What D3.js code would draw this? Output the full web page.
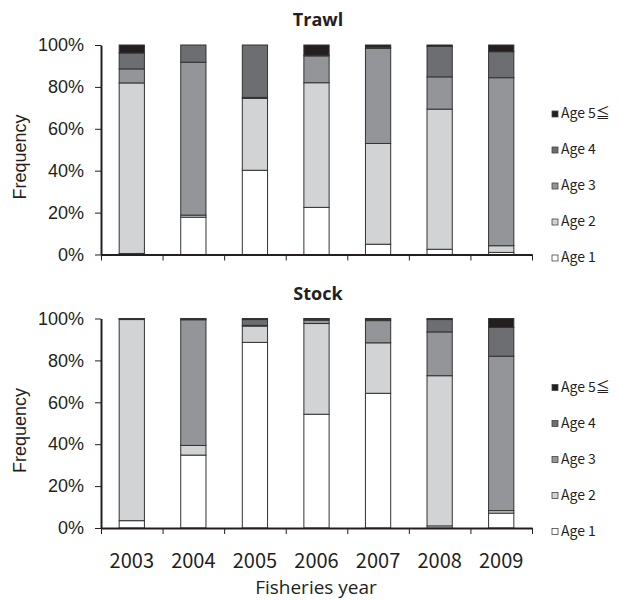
<!DOCTYPE html>
<html>
<head>
<meta charset="utf-8">
<script src="https://cdn.jsdelivr.net/npm/d3@7"></script>
<style>
  body { margin: 0; background: #fff; }
  svg { display: block; }
</style>
</head>
<body>
<svg id="chart" width="620" height="601"></svg>
<script>
var years = ["2003", "2004", "2005", "2006", "2007", "2008", "2009"];
var ages = ["Age 1", "Age 2", "Age 3", "Age 4", "Age 5≦"];
var yTicks = [0, 0.2, 0.4, 0.6, 0.8, 1];

// percentages per age class
var trawlAge1 = [0.5, 17.8, 40.2, 22.5, 4.9, 2.5, 1.0];
var trawlAge2 = [81.4, 1.0, 34.3, 59.5, 48.1, 66.9, 3.2];
var trawlAge3 = [6.7, 73.0, 0.5, 12.8, 45.4, 15.4, 80.2];
var trawlAge4 = [7.6, 8.2, 25.0, 0.3, 0.6, 14.5, 12.4];
var trawlAge5 = [3.8, 0, 0, 4.9, 1.0, 0.7, 3.2];

var stockAge1 = [3.5, 34.8, 88.6, 54.3, 64.3, 1.0, 7.1];
var stockAge2 = [96.0, 4.6, 7.8, 43.3, 24.1, 71.7, 1.2];
var stockAge3 = [0, 60.0, 0.3, 1.6, 10.6, 20.9, 73.7];
var stockAge4 = [0.3, 0.4, 2.8, 0.5, 0.6, 5.9, 13.7];
var stockAge5 = [0.2, 0.2, 0.5, 0.3, 0.4, 0.5, 4.3];

var colors = ["#ffffff", "#d1d3d4", "#939598", "#6d6e71", "#231f20"];

function buildRows(series) {
  return years.map(function(y, i) {
    var row = {year: y};
    ages.forEach(function(a, k) { row[a] = series[k][i]; });
    return row;
  });
}

var svg = d3.select("#chart");
var left = 101, right = 532;

var x = d3.scaleBand()
  .domain(years)
  .range([left, right])
  .paddingInner(0.59)
  .paddingOuter(0.295);

var xEdge = d3.scaleLinear().domain([0, years.length]).range([left, right]);

var color = d3.scaleOrdinal().domain(ages).range(colors);

function drawPanel(title, series, top, showYears) {
  var bottom = top + 209.5;
  var y = d3.scaleLinear().domain([0, 1]).range([bottom, top]);
  var g = svg.append("g");

  var stack = d3.stack().keys(ages).offset(d3.stackOffsetExpand);
  var layers = stack(buildRows(series));

  g.selectAll(".layer")
    .data(layers)
    .enter().append("g")
    .attr("fill", function(d) { return color(d.key); })
    .selectAll("rect")
    .data(function(d) { return d; })
    .enter().append("rect")
    .attr("x", function(d) { return x(d.data.year); })
    .attr("width", x.bandwidth())
    .attr("y", function(d) { return y(d[1]); })
    .attr("height", function(d) { return y(d[0]) - y(d[1]); })
    .attr("stroke", "#333")
    .attr("stroke-width", 1);

  // y axis
  var yAxis = g.append("g")
    .attr("transform", "translate(" + left + ",0)")
    .call(d3.axisLeft(y).tickValues(yTicks).tickFormat(d3.format(".0%")).tickSize(6).tickSizeOuter(0));
  yAxis.select(".domain").attr("stroke", "#231f20").attr("stroke-width", 2);
  yAxis.selectAll(".tick line").attr("stroke", "#231f20");
  yAxis.selectAll("text")
    .attr("x", -17)
    .style("font-family", "'Liberation Sans', Arial, sans-serif")
    .style("font-size", "18px")
    .attr("fill", "#231f20");

  // x axis with ticks at band edges
  var xAxis = g.append("g")
    .attr("transform", "translate(0," + bottom + ")")
    .call(d3.axisBottom(xEdge).ticks(years.length).tickFormat("").tickSize(6).tickSizeOuter(0));
  xAxis.select(".domain").attr("stroke", "#231f20").attr("stroke-width", 2);
  xAxis.selectAll(".tick line").attr("stroke", "#231f20");

  if (showYears) {
    g.selectAll(".yr")
      .data(years)
      .enter().append("text")
      .attr("x", function(d) { return x(d) + x.bandwidth() / 2; })
      .attr("y", bottom + 40)
      .attr("text-anchor", "middle")
      .style("font-family", "'Noto Sans CJK JP', 'Noto Sans', sans-serif")
      .style("font-size", "20px")
      .attr("fill", "#231f20")
      .text(function(d) { return d; });
  }

  g.append("text")
    .attr("x", 318)
    .attr("y", top - 19)
    .attr("text-anchor", "middle")
    .style("font-family", "'Open Sans', 'Noto Sans', sans-serif")
    .style("font-weight", "bold")
    .style("font-size", "18px")
    .attr("fill", "#231f20")
    .text(title);

  g.append("text")
    .attr("transform", "translate(26," + (top + 112) + ") rotate(-90)")
    .attr("text-anchor", "middle")
    .style("font-family", "'Liberation Sans', Arial, sans-serif")
    .style("font-size", "18px")
    .attr("fill", "#231f20")
    .text("Frequency");

  // legend, Age 5 on top
  var legend = g.selectAll(".lg")
    .data(ages.slice().reverse())
    .enter().append("g")
    .attr("transform", function(d, i) { return "translate(552," + (top + 73 + i * 36) + ")"; });
  legend.append("rect")
    .attr("x", 0).attr("y", -7)
    .attr("width", 6).attr("height", 6)
    .attr("fill", function(d) { return color(d); })
    .attr("stroke", "#444")
    .attr("stroke-width", 0.8);
  legend.append("text")
    .attr("x", 9)
    .attr("y", 0)
    .style("font-family", "'Noto Sans CJK JP', sans-serif")
    .style("font-size", "14px")
    .attr("fill", "#231f20")
    .text(function(d) { return d; });
}

drawPanel("Trawl", [trawlAge1, trawlAge2, trawlAge3, trawlAge4, trawlAge5], 45, false);
drawPanel("Stock", [stockAge1, stockAge2, stockAge3, stockAge4, stockAge5], 318.5, true);

svg.append("text")
  .attr("x", 316)
  .attr("y", 594)
  .attr("text-anchor", "middle")
  .style("font-family", "'Open Sans', 'Noto Sans', sans-serif")
  .style("font-size", "19px")
  .attr("fill", "#231f20")
  .text("Fisheries year");
</script>
</body>
</html>
